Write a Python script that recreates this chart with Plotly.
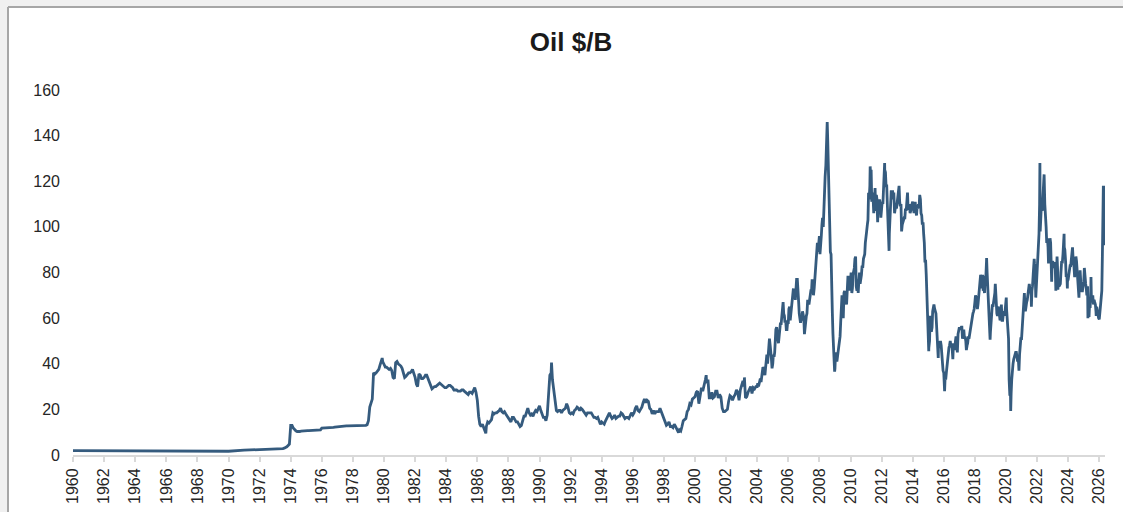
import pandas as pd
import plotly.graph_objects as go

# ---------------- data (Brent-style oil price, $/barrel) ----------------
# annual points 1960-1972 (Jan 1)
years_early = list(range(1960, 1973))
price_early = [1.9, 1.9, 1.85, 1.85, 1.8, 1.8, 1.75, 1.7, 1.7, 1.65, 1.65, 2.1, 2.3]

# monthly points 1973-2003 (1st of month)
m1973 = [2.4, 2.5, 2.5, 2.6, 2.6, 2.7, 2.8, 3.0, 3.2, 3.6, 4.2, 4.8]
m1974 = [13.0, 13.0, 11.8, 11.0, 10.6, 10.3, 10.2, 10.3, 10.5, 10.6, 10.7, 10.7]
m1975 = [10.7, 10.7, 10.7, 10.7, 10.8, 10.8, 10.8, 10.8, 10.8, 11.0, 11.0, 11.0]
m1976 = [11.8, 11.8, 11.8, 11.9, 11.9, 11.9, 12.0, 12.0, 12.0, 12.1, 12.2, 12.3]
m1977 = [12.4, 12.5, 12.6, 12.7, 12.7, 12.7, 12.8, 12.8, 12.8, 12.8, 12.8, 12.8]
m1978 = [12.8, 12.8, 12.8, 12.8, 12.8, 12.8, 12.8, 12.8, 12.8, 12.9, 13.0, 13.3]
m1979 = [15.0, 21.0, 23.0, 24.5, 36.0, 35.5, 36.0, 37.0, 37.5, 39.5, 42.0, 41.0]
m1980 = [40.0, 38.5, 38.5, 38.0, 37.5, 38.0, 37.0, 34.0, 33.5, 40.5, 41.0, 40.0]
m1981 = [39.5, 39.0, 38.0, 36.0, 34.0, 34.5, 35.5, 36.0, 36.0, 36.5, 37.5, 36.0]
m1982 = [34.0, 31.0, 30.0, 35.5, 35.0, 33.5, 33.5, 34.0, 35.0, 35.0, 33.5, 32.0]
m1983 = [31.0, 29.0, 29.5, 30.0, 30.0, 30.5, 31.0, 31.5, 31.0, 30.5, 30.0, 29.5]
m1984 = [29.5, 30.0, 30.5, 30.5, 30.0, 29.5, 28.5, 28.5, 28.5, 28.0, 28.0, 28.0]
m1985 = [28.5, 28.5, 28.0, 27.5, 27.0, 26.5, 27.5, 27.5, 27.0, 28.0, 29.5, 27.5]
m1986 = [24.0, 17.0, 13.5, 12.5, 13.5, 12.0, 10.0, 12.5, 14.5, 14.0, 15.0, 15.5]
m1987 = [18.5, 18.0, 18.5, 18.5, 19.0, 19.5, 20.5, 19.0, 18.5, 19.0, 18.0, 17.0]
m1988 = [16.5, 15.0, 14.5, 16.5, 16.5, 15.5, 14.5, 14.5, 13.5, 12.5, 13.0, 15.5]
m1989 = [17.0, 17.0, 19.0, 20.5, 18.5, 17.5, 18.0, 17.0, 18.5, 19.5, 19.0, 20.5]
m1990 = [21.5, 19.5, 18.0, 16.5, 16.5, 15.0, 17.5, 27.0, 35.0, 36.0, 33.0, 28.0]
m1991 = [24.0, 19.5, 19.0, 19.5, 19.5, 18.5, 19.5, 20.0, 20.5, 22.5, 21.0, 18.5]
m1992 = [18.0, 18.5, 18.0, 19.5, 20.0, 21.0, 20.5, 19.5, 20.5, 20.0, 19.0, 18.5]
m1993 = [17.5, 18.5, 18.5, 18.5, 18.5, 17.5, 16.5, 16.5, 16.0, 16.5, 15.0, 13.5]
m1994 = [14.5, 14.0, 13.5, 15.0, 16.0, 17.0, 18.5, 17.0, 16.0, 16.5, 17.5, 16.0]
m1995 = [16.5, 17.0, 17.0, 18.5, 18.0, 17.0, 16.0, 16.5, 16.5, 16.0, 17.0, 18.5]
m1996 = [17.5, 18.5, 20.5, 21.5, 19.5, 19.0, 20.0, 21.0, 23.0, 24.5, 23.0, 24.0]
m1997 = [23.5, 20.5, 20.0, 18.0, 19.5, 18.0, 19.0, 19.0, 19.0, 20.5, 19.0, 17.5]
m1998 = [15.5, 14.0, 13.0, 13.5, 14.5, 12.5, 12.5, 12.0, 13.5, 12.5, 11.0, 10.0]
m1999 = [11.0, 10.5, 12.5, 15.0, 15.5, 16.0, 19.0, 20.0, 22.5, 22.0, 24.5, 25.0]
m2000 = [25.5, 27.5, 28.0, 22.5, 27.0, 29.5, 28.0, 30.0, 33.0, 31.5, 33.0, 25.0]
m2001 = [25.0, 27.5, 25.0, 25.5, 28.0, 28.0, 25.0, 26.5, 25.5, 20.5, 19.0, 19.0]
m2002 = [19.5, 20.0, 23.5, 26.0, 25.5, 24.0, 25.5, 26.5, 28.5, 27.5, 24.0, 28.5]
m2003 = [30.5, 32.5, 30.0, 25.0, 25.5, 27.5, 28.5, 30.0, 27.0, 29.5, 29.0, 30.0]

# semi-monthly points 2004-2026 (1st and 15th of each month)
s2004 = [30, 31.5, 30, 31, 33, 33.5, 32, 33.5, 36, 38.5, 38, 35, 35, 38, 42, 44, 40, 44, 47, 51, 48, 42, 42, 38]
s2005 = [40, 44, 43, 45, 51, 55, 56, 51, 51, 49, 53, 58, 58, 57, 61, 65, 67, 62, 61, 58, 59, 55, 55, 58]
s2006 = [58, 64, 65, 59, 62, 62, 66, 71, 73, 69, 70, 68, 73, 77, 77, 74, 67, 62, 60, 58, 60, 59, 63, 62]
s2007 = [60, 53, 57, 59, 61, 62, 68, 67, 66, 69, 70, 72, 72, 77, 76, 70, 73, 77, 79, 84, 86, 93, 89, 93]
s2008 = [96, 88, 91, 96, 101, 104, 100, 110, 112, 122, 127, 134, 143, 138, 123, 113, 105, 89, 88, 70, 62, 53, 46, 40]
s2009 = [38, 45, 44, 41, 43, 46, 50, 51, 52, 58, 66, 70, 69, 60, 71, 72, 67, 68, 66, 76, 78, 78, 77, 72]
s2010 = [78, 80, 71, 73, 79, 80, 82, 86, 87, 74, 72, 77, 71, 76, 80, 75, 77, 79, 83, 82, 86, 87, 88, 93]
s2011 = [95, 98, 101, 103, 115, 112, 118, 124, 125, 111, 115, 113, 106, 117, 117, 107, 114, 112, 102, 112, 109, 112, 110, 104]
s2012 = [107, 111, 110, 119, 124, 125, 124, 118, 118, 110, 98, 97, 97, 103, 105, 116, 114, 116, 112, 115, 106, 108, 110, 108]
s2013 = [111, 111, 116, 118, 111, 109, 110, 98, 101, 102, 103, 104, 104, 108, 107, 110, 115, 108, 108, 110, 106, 107, 110, 110]
s2014 = [111, 106, 106, 109, 111, 107, 105, 109, 108, 110, 109, 114, 112, 106, 105, 101, 102, 97, 93, 85, 85, 79, 72, 61]
s2015 = [56, 47, 50, 61, 60, 54, 56, 63, 66, 66, 64, 63, 62, 57, 52, 48, 50, 47, 48, 50, 48, 44, 43, 37]
s2016 = [36, 30, 34, 33, 36, 39, 39, 43, 47, 48, 50, 48, 48, 47, 42, 49, 46, 46, 50, 52, 48, 45, 53, 55]
s2017 = [56, 55, 56, 56, 56, 51, 53, 55, 51, 52, 50, 46, 48, 49, 52, 51, 53, 55, 57, 58, 61, 62, 63, 64]
s2018 = [67, 70, 69, 64, 64, 66, 69, 73, 74, 79, 77, 73, 79, 72, 73, 71, 78, 78, 85, 80, 73, 66, 61, 57]
s2019 = [54, 60, 62, 66, 65, 67, 69, 71, 72, 72, 62, 61, 65, 64, 61, 59, 60, 66, 59, 59, 62, 63, 61, 66]
s2020 = [67, 64, 57, 57, 51, 33, 26, 28, 27, 33, 39, 40, 42, 43, 44, 45, 45, 41, 41, 43, 37, 44, 48, 51]
s2021 = [51, 55, 56, 63, 64, 68, 63, 66, 67, 68, 70, 73, 75, 73, 73, 70, 72, 74, 79, 85, 84, 82, 69, 74]
s2022 = [78, 86, 89, 97, 110, 98, 105, 111, 107, 112, 118, 123, 110, 101, 100, 93, 95, 91, 88, 92, 95, 93, 86, 81]
s2023 = [85, 84, 82, 84, 84, 74, 80, 87, 80, 75, 74, 75, 75, 80, 85, 84, 88, 94, 91, 90, 85, 78, 79, 76]
s2024 = [77, 79, 80, 83, 83, 85, 89, 90, 84, 83, 78, 82, 87, 85, 80, 79, 75, 72, 75, 74, 73, 72, 72, 74]
s2025 = [76, 82, 76, 75, 73, 70, 74, 66, 62, 65, 65, 72, 67, 69, 70, 66, 68, 67, 66, 63, 65, 63, 63, 60]
s2026 = [60, 63, 66, 69, 72, 88, 112, 95, 108]

# notable daily extremes
spike_dates = ["1979-11-20", "1986-07-20", "1990-10-10", "1998-12-10", "2000-09-20", "2003-03-07",
               "2008-07-03", "2008-12-24", "2011-04-08", "2012-03-13", "2012-06-25", "2015-01-13",
               "2015-08-24", "2016-01-20", "2018-10-03", "2018-12-24", "2019-04-25", "2020-01-08",
               "2020-04-21", "2021-03-08", "2021-08-20", "2021-10-25", "2022-03-08", "2022-09-26",
               "2022-12-09", "2023-03-17", "2023-05-04", "2023-09-27", "2023-12-13", "2024-04-12",
               "2024-09-10", "2024-10-07", "2025-04-09", "2025-05-05", "2025-06-20", "2025-10-20",
               "2025-12-31", "2026-03-24", "2026-04-06", "2026-04-10", "2026-04-20", "2026-04-27",
               "2026-05-06", "2026-05-12"]
spike_values = [42.5, 9.5, 40.5, 9.8, 35.0, 34.0,
                146.0, 36.5, 126.5, 128.0, 89.5, 45.5,
                42.5, 28.0, 86.3, 50.5, 75.0, 69.0,
                19.3, 71.0, 65.0, 86.0, 128.0, 84.0,
                76.0, 72.0, 72.5, 97.0, 73.0, 91.0,
                69.0, 81.0, 60.0, 60.5, 78.0, 61.0,
                59.5, 104.0, 118.0, 110.0, 92.0, 105.0,
                118.0, 112.0]

monthly_blocks = [(1973, m1973), (1974, m1974), (1975, m1975), (1976, m1976), (1977, m1977),
                  (1978, m1978), (1979, m1979), (1980, m1980), (1981, m1981), (1982, m1982),
                  (1983, m1983), (1984, m1984), (1985, m1985), (1986, m1986), (1987, m1987),
                  (1988, m1988), (1989, m1989), (1990, m1990), (1991, m1991), (1992, m1992),
                  (1993, m1993), (1994, m1994), (1995, m1995), (1996, m1996), (1997, m1997),
                  (1998, m1998), (1999, m1999), (2000, m2000), (2001, m2001), (2002, m2002),
                  (2003, m2003)]
semi_blocks = [(2004, s2004), (2005, s2005), (2006, s2006), (2007, s2007), (2008, s2008),
               (2009, s2009), (2010, s2010), (2011, s2011), (2012, s2012), (2013, s2013),
               (2014, s2014), (2015, s2015), (2016, s2016), (2017, s2017), (2018, s2018),
               (2019, s2019), (2020, s2020), (2021, s2021), (2022, s2022), (2023, s2023),
               (2024, s2024), (2025, s2025), (2026, s2026)]

dates, prices = [], []
for yr, v in zip(years_early, price_early):
    dates.append(pd.Timestamp(yr, 1, 1)); prices.append(v)
for yr, vals in monthly_blocks:
    for i, v in enumerate(vals):
        dates.append(pd.Timestamp(yr, i + 1, 1)); prices.append(v)
for yr, vals in semi_blocks:
    for i, v in enumerate(vals):
        dates.append(pd.Timestamp(yr, i // 2 + 1, 1 if i % 2 == 0 else 15)); prices.append(v)
for d, v in zip(spike_dates, spike_values):
    dates.append(pd.Timestamp(d)); prices.append(v)

df = pd.DataFrame({"date": dates, "price": prices}).sort_values("date")

# ---------------- figure ----------------
L, R, T, B = 73, 18, 90, 57
W, H = 1123, 512
pw, ph = W - L - R, H - T - B


def px_x(x):
    return (x - L) / pw


def px_y(y):
    return (H - B - y) / ph


fig = go.Figure(go.Scatter(x=df["date"], y=df["price"], mode="lines",
                           line=dict(color="#355b7e", width=2.8),
                           hoverinfo="x+y"))

# light-grey page strips (top and left) and the panel border lines
frame = dict(xref="paper", yref="paper", layer="below")
fig.add_shape(type="rect", x0=px_x(0), x1=px_x(W), y0=px_y(7), y1=px_y(0),
              fillcolor="#f0f0f0", line=dict(width=0), **frame)
fig.add_shape(type="rect", x0=px_x(0), x1=px_x(8), y0=px_y(H), y1=px_y(0),
              fillcolor="#f0f0f0", line=dict(width=0), **frame)
fig.add_shape(type="line", x0=px_x(8), x1=px_x(W), y0=px_y(7), y1=px_y(7),
              line=dict(color="#a6a6a6", width=2), **frame)
fig.add_shape(type="line", x0=px_x(8), x1=px_x(8), y0=px_y(H), y1=px_y(7),
              line=dict(color="#a6a6a6", width=2), **frame)

fig.update_layout(
    width=W, height=H,
    margin=dict(l=L, r=R, t=T, b=B, autoexpand=False),
    paper_bgcolor="white",
    plot_bgcolor="rgba(0,0,0,0)",
    showlegend=False,
    font=dict(family="Liberation Sans, Arial, sans-serif", size=16, color="#262626"),
    title=dict(text="<b>Oil $/B</b>", font=dict(size=26, color="#1a1a1a"),
               xref="paper", x=px_x(571), xanchor="center",
               yref="container", y=1 - 42 / H, yanchor="middle"),
    xaxis=dict(type="date", range=["1960-01-01", "2026-05-15"], automargin=False,
               tick0="1960-01-01", dtick="M24", tickformat="%Y", tickangle=-90,
               showline=True, linecolor="#d9d9d9", linewidth=2,
               ticks="outside", ticklen=5, tickcolor="#d9d9d9", tickwidth=1.5,
               showgrid=False, zeroline=False, tickfont=dict(size=16)),
    yaxis=dict(range=[0, 160], tick0=0, dtick=20, showgrid=False, zeroline=False,
               automargin=False, showline=False, ticks="", ticklabelstandoff=12,
               tickfont=dict(size=16)),
)

fig.write_html(
    "out.html",
    config={"displayModeBar": False},
    post_script=("document.body.style.margin='0';document.body.style.overflow='hidden';"
                 "document.body.style.background='#f0f0f0';"),
)
